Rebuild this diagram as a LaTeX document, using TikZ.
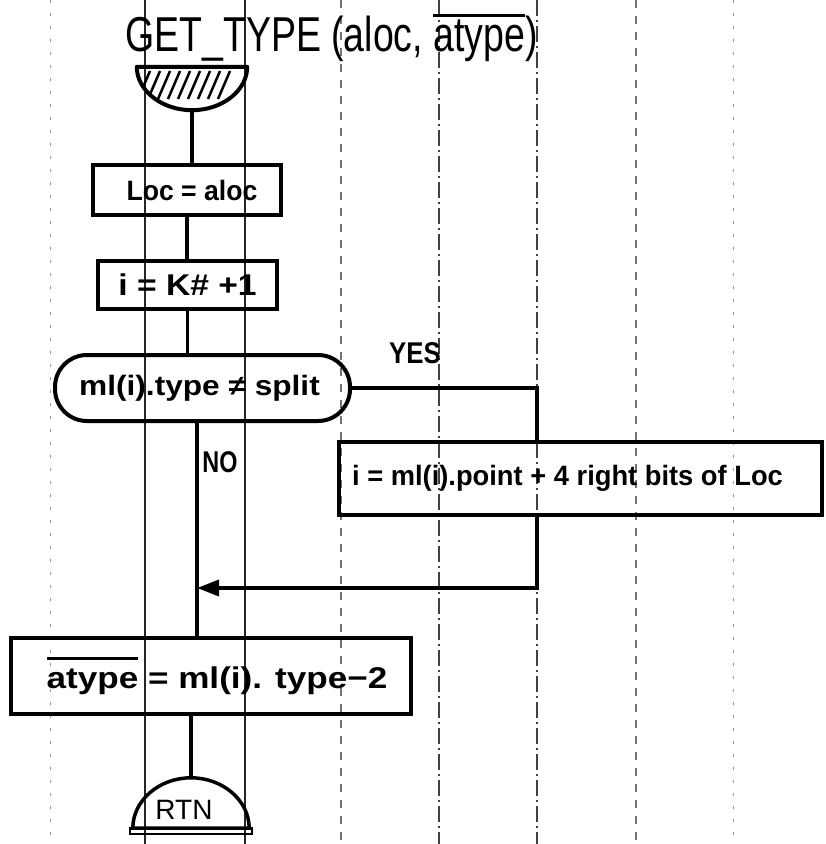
\documentclass[tikz,border=0pt]{standalone}
\usepackage{fontspec}
\setmainfont{Liberation Sans}
\usetikzlibrary{arrows.meta}
\newcommand{\hw}[2]{\scalebox{#1}[1]{#2}}
\newcommand{\obar}[2]{\leavevmode\vbox{\hrule height 3pt\kern #1\hbox{#2}}}
\tikzset{
  box/.style={draw, line width=4pt, inner sep=0pt, font=\fontsize{28}{32}\selectfont\bfseries},
  flow/.style={line width=3.5pt},
  gridsolid/.style={line width=1.3pt, black!85},
  griddark/.style={line width=1.3pt, black!75, dash pattern=on 16pt off 4pt on 2pt off 4pt},
  gridlight/.style={line width=1.1pt, black!55, dash pattern=on 8pt off 8pt},
  gridfaint/.style={line width=1pt, black!40, dash pattern=on 3pt off 10pt},
  lbl/.style={inner sep=0pt, font=\fontsize{30}{34}\selectfont\bfseries}
}
\begin{document}
\begin{tikzpicture}[x=1pt,y=-1pt]
\fill[white] (0,0) rectangle (826,844);
\useasboundingbox (0,0) rectangle (826,844);
% ruled paper lines
\draw[gridfaint] (50,0) -- (50,844);
\draw[gridsolid] (145,0) -- (145,844);
\draw[gridsolid] (245,0) -- (245,844);
\draw[gridlight] (341,0) -- (341,844);
\draw[griddark] (439,0) -- (439,844);
\draw[griddark] (537,0) -- (537,844);
\draw[gridlight] (636,0) -- (636,844);
\draw[gridfaint] (733,0) -- (733,844);

% title
\node[anchor=base west, inner sep=0pt, font=\fontsize{49}{55}\selectfont] (title) at (125,51)
  {\hw{0.765}{GET\_TYPE (aloc, \obar{2pt}{atype})}};

% start symbol
\node[minimum width=110pt, minimum height=43pt, inner sep=0pt] (start) at (192,88.5) {};
\begin{scope}
  \clip (start.north west) -- (start.north east) .. controls +(0,23.7) and +(30.4,0) .. (start.south)
        .. controls +(-30.4,0) and +(0,23.7) .. (start.north west) -- cycle;
  \foreach \k in {0,...,8} \draw[line width=2.5pt] (138+\k*10,99) -- (150+\k*10,71);
\end{scope}
\draw[line width=4pt, line join=round] (start.north west) -- (start.north east)
  .. controls +(0,23.7) and +(30.4,0) .. (start.south)
  .. controls +(-30.4,0) and +(0,23.7) .. (start.north west) -- cycle;

% boxes
\node[box, minimum width=188pt, minimum height=50pt] (loc) at (187,190) {\hw{0.95}{Loc = aloc}\kern-10pt};
\node[box, minimum width=179pt, minimum height=48pt, font=\fontsize{30}{34}\selectfont\bfseries] (ibox) at (187.5,285) {\hw{1.12}{i = K\# +1}};
\node[box, rounded corners=32pt, minimum width=295pt, minimum height=66pt] (dec) at (202.5,388) {\hw{1.13}{ml(i).type ≠ split}\kern6pt};
\node[box, minimum width=483pt, minimum height=73pt] (lb) at (580.5,478.5) {\hw{0.975}{i = ml(i).point + 4 right bits of Loc}\kern26pt};
\node[box, minimum width=400pt, minimum height=76pt, font=\fontsize{30}{34}\selectfont\bfseries] (atb) at (211,676)
  {\kern12pt\hw{1.17}{\obar{9pt}{atype} = ml(i). type−2}};

% return symbol
\node[minimum width=116pt, minimum height=50pt, inner sep=0pt] (rtn) at (191,803) {};
\node[inner sep=0pt, font=\fontsize{28}{32}\selectfont] (rtntext) at (184,810) {RTN};
\draw[line width=3.5pt] (rtn.south west) .. controls +(0,-27.6) and +(-32,0) .. (rtn.north)
  .. controls +(32,0) and +(0,-27.6) .. (rtn.south east) -- cycle;
\draw[line width=2.5pt] ([xshift=-3pt]rtn.south west) rectangle ([xshift=3pt,yshift=-6pt]rtn.south east);

% labels
\node[lbl] (yes) at (415,353) {\hw{0.86}{YES}};
\node[lbl] (no) at (220,462) {\hw{0.78}{NO}};

% connectors
\coordinate (mainx) at (197,0);
\coordinate (yesx) at (537,0);
\coordinate (join) at (197,588);
\draw[flow] (start.south) -- (start.south |- loc.north);
\draw[flow] (loc.south) -- (loc.south |- ibox.north);
\draw[flow] (ibox.south) -- (ibox.south |- dec.north);
\draw[flow] (dec.south -| mainx) -- (atb.north -| mainx);
\draw[flow] (dec.east) -| (lb.north -| yesx);
\draw[flow, -{Triangle[length=22pt,width=16pt]}] (lb.south -| yesx) |- (join);
\draw[flow] (atb.south -| rtn.north) -- (rtn.north);
\end{tikzpicture}
\end{document}
